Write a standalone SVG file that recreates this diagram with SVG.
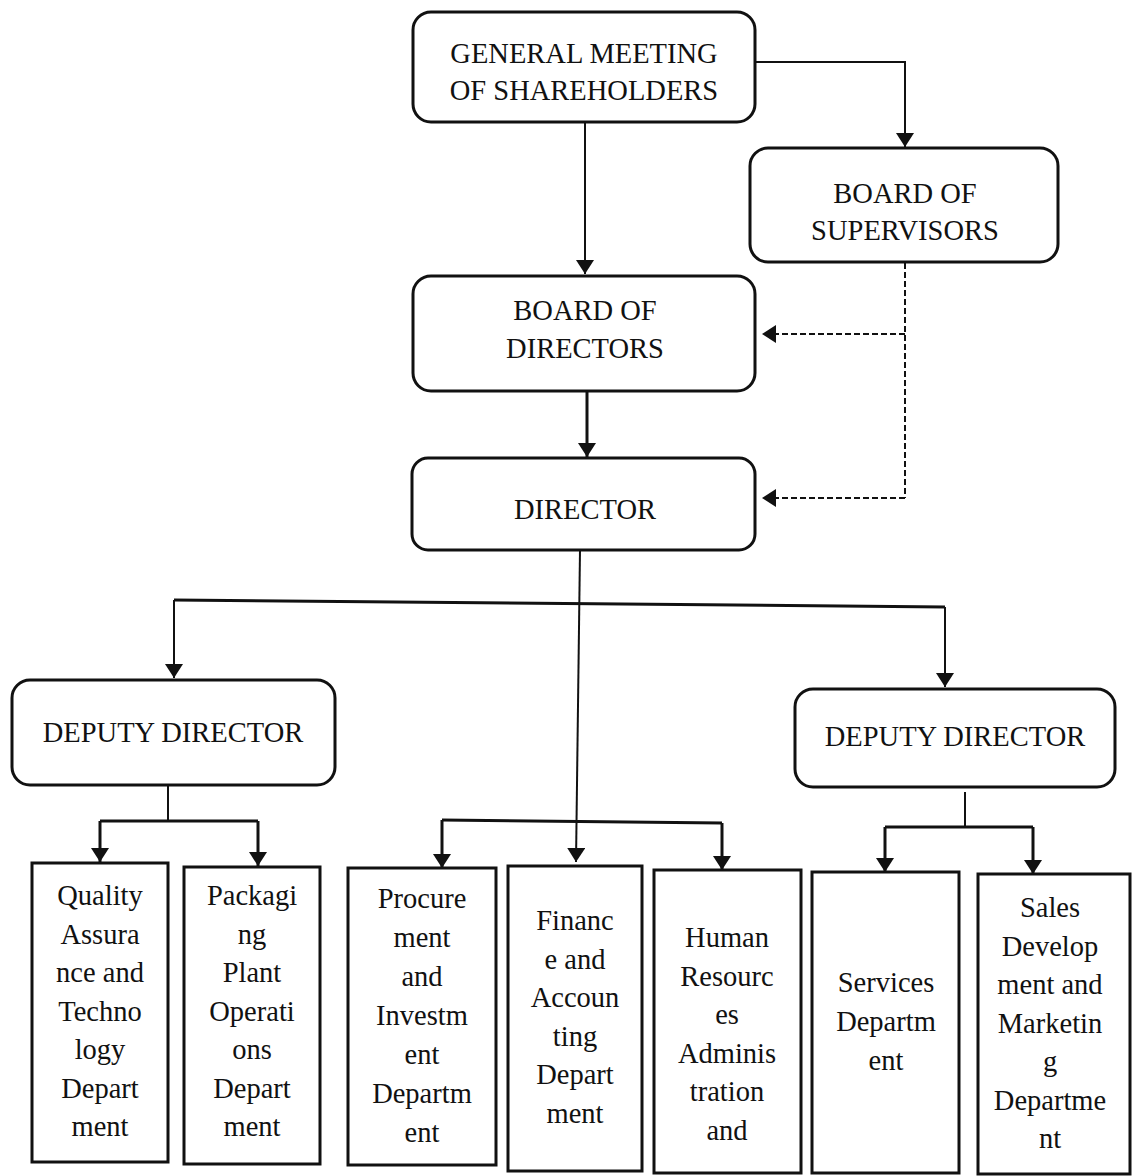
<svg xmlns="http://www.w3.org/2000/svg" width="1133" height="1176" viewBox="0 0 1133 1176">
<style>
.box{fill:#fff;stroke:#111;stroke-width:3}
.t{font-family:"Liberation Serif","Times New Roman",serif;font-size:28.5px;fill:#111;text-anchor:middle}
.b{font-family:"Liberation Serif","Times New Roman",serif;font-size:28.5px;fill:#111;text-anchor:middle}
.c{fill:none;stroke:#111;stroke-width:3}
.c2{fill:none;stroke:#111;stroke-width:2}
.d{fill:none;stroke:#111;stroke-width:2;stroke-dasharray:6 3}
</style>
<defs>
<marker id="ah" viewBox="0 0 14 18" refX="14" refY="9" markerWidth="14" markerHeight="18" markerUnits="userSpaceOnUse" orient="auto">
<path d="M0,0 L14,9 L0,18 Z" fill="#111"/>
</marker>
</defs>
<rect width="1133" height="1176" fill="#fff"/>
<g id="connectors">
<path class="c2" d="M755,62 H905 V147" marker-end="url(#ah)"/>
<path class="c2" d="M585,122 V274" marker-end="url(#ah)"/>
<path class="c" d="M587,392 V457" marker-end="url(#ah)"/>
<path class="d" d="M905,263 V498"/>
<path class="d" d="M905,334 H762" marker-end="url(#ah)"/>
<path class="d" d="M905,498 H762" marker-end="url(#ah)"/>
<path class="c2" d="M580,550 L576,862" marker-end="url(#ah)"/>
<path class="c" d="M174,600 L945,607"/>
<path class="c2" d="M174,600 V678" marker-end="url(#ah)"/>
<path class="c2" d="M945,607 V687" marker-end="url(#ah)"/>
<path class="c2" d="M168,785 V821"/>
<path class="c" d="M100,821 H258"/>
<path class="c" d="M100,821 V862" marker-end="url(#ah)"/>
<path class="c" d="M258,821 V866" marker-end="url(#ah)"/>
<path class="c" d="M442,820 L722,823"/>
<path class="c" d="M442,820 V868" marker-end="url(#ah)"/>
<path class="c" d="M722,823 V870" marker-end="url(#ah)"/>
<path class="c2" d="M965,792 V827"/>
<path class="c" d="M885,827 H1033"/>
<path class="c" d="M885,827 V872" marker-end="url(#ah)"/>
<path class="c" d="M1033,827 V874" marker-end="url(#ah)"/>
</g>
<g id="gms">
<rect class="box" x="413" y="12" width="342" height="110" rx="18"/>
<text class="t" x="584" y="63">GENERAL MEETING</text>
<text class="t" x="584" y="100">OF SHAREHOLDERS</text>
</g>
<g id="bos">
<rect class="box" x="750" y="148" width="308" height="114" rx="18"/>
<text class="t" x="905" y="203">BOARD OF</text>
<text class="t" x="905" y="240">SUPERVISORS</text>
</g>
<g id="bod">
<rect class="box" x="413" y="276" width="342" height="115" rx="18"/>
<text class="t" x="585" y="320">BOARD OF</text>
<text class="t" x="585" y="358">DIRECTORS</text>
</g>
<g id="director">
<rect class="box" x="412" y="458" width="343" height="92" rx="16"/>
<text class="t" x="585" y="519">DIRECTOR</text>
</g>
<g id="deputy-left">
<rect class="box" x="12" y="680" width="323" height="105" rx="18"/>
<text class="t" x="173" y="742">DEPUTY DIRECTOR</text>
</g>
<g id="deputy-right">
<rect class="box" x="795" y="689" width="320" height="98" rx="18"/>
<text class="t" x="955" y="746">DEPUTY DIRECTOR</text>
</g>
<g id="quality">
<rect class="box" x="32" y="863" width="136" height="299"/>
<text class="b" x="100" y="905">Quality</text>
<text class="b" x="100" y="943.5">Assura</text>
<text class="b" x="100" y="982">nce and</text>
<text class="b" x="100" y="1020.5">Techno</text>
<text class="b" x="100" y="1059">logy</text>
<text class="b" x="100" y="1097.5">Depart</text>
<text class="b" x="100" y="1136">ment</text>
</g>
<g id="packaging">
<rect class="box" x="184" y="867" width="136" height="297"/>
<text class="b" x="252" y="905">Packagi</text>
<text class="b" x="252" y="943.5">ng</text>
<text class="b" x="252" y="982">Plant</text>
<text class="b" x="252" y="1020.5">Operati</text>
<text class="b" x="252" y="1059">ons</text>
<text class="b" x="252" y="1097.5">Depart</text>
<text class="b" x="252" y="1136">ment</text>
</g>
<g id="procurement">
<rect class="box" x="348" y="868" width="148" height="297"/>
<text class="b" x="422" y="908">Procure</text>
<text class="b" x="422" y="947">ment</text>
<text class="b" x="422" y="986">and</text>
<text class="b" x="422" y="1025">Investm</text>
<text class="b" x="422" y="1064">ent</text>
<text class="b" x="422" y="1103">Departm</text>
<text class="b" x="422" y="1142">ent</text>
</g>
<g id="finance">
<rect class="box" x="508" y="866" width="134" height="305"/>
<text class="b" x="575" y="930">Financ</text>
<text class="b" x="575" y="968.5">e and</text>
<text class="b" x="575" y="1007">Accoun</text>
<text class="b" x="575" y="1045.5">ting</text>
<text class="b" x="575" y="1084">Depart</text>
<text class="b" x="575" y="1122.5">ment</text>
</g>
<g id="human-resources">
<rect class="box" x="654" y="870" width="147" height="303"/>
<text class="b" x="727" y="947">Human</text>
<text class="b" x="727" y="985.5">Resourc</text>
<text class="b" x="727" y="1024">es</text>
<text class="b" x="727" y="1062.5">Adminis</text>
<text class="b" x="727" y="1101">tration</text>
<text class="b" x="727" y="1139.5">and</text>
</g>
<g id="services">
<rect class="box" x="812" y="872" width="147" height="301"/>
<text class="b" x="886" y="992">Services</text>
<text class="b" x="886" y="1031">Departm</text>
<text class="b" x="886" y="1070">ent</text>
</g>
<g id="sales">
<rect class="box" x="978" y="874" width="152" height="300"/>
<text class="b" x="1050" y="917">Sales</text>
<text class="b" x="1050" y="955.5">Develop</text>
<text class="b" x="1050" y="994">ment and</text>
<text class="b" x="1050" y="1032.5">Marketin</text>
<text class="b" x="1050" y="1071">g</text>
<text class="b" x="1050" y="1109.5">Departme</text>
<text class="b" x="1050" y="1148">nt</text>
</g>
</svg>
